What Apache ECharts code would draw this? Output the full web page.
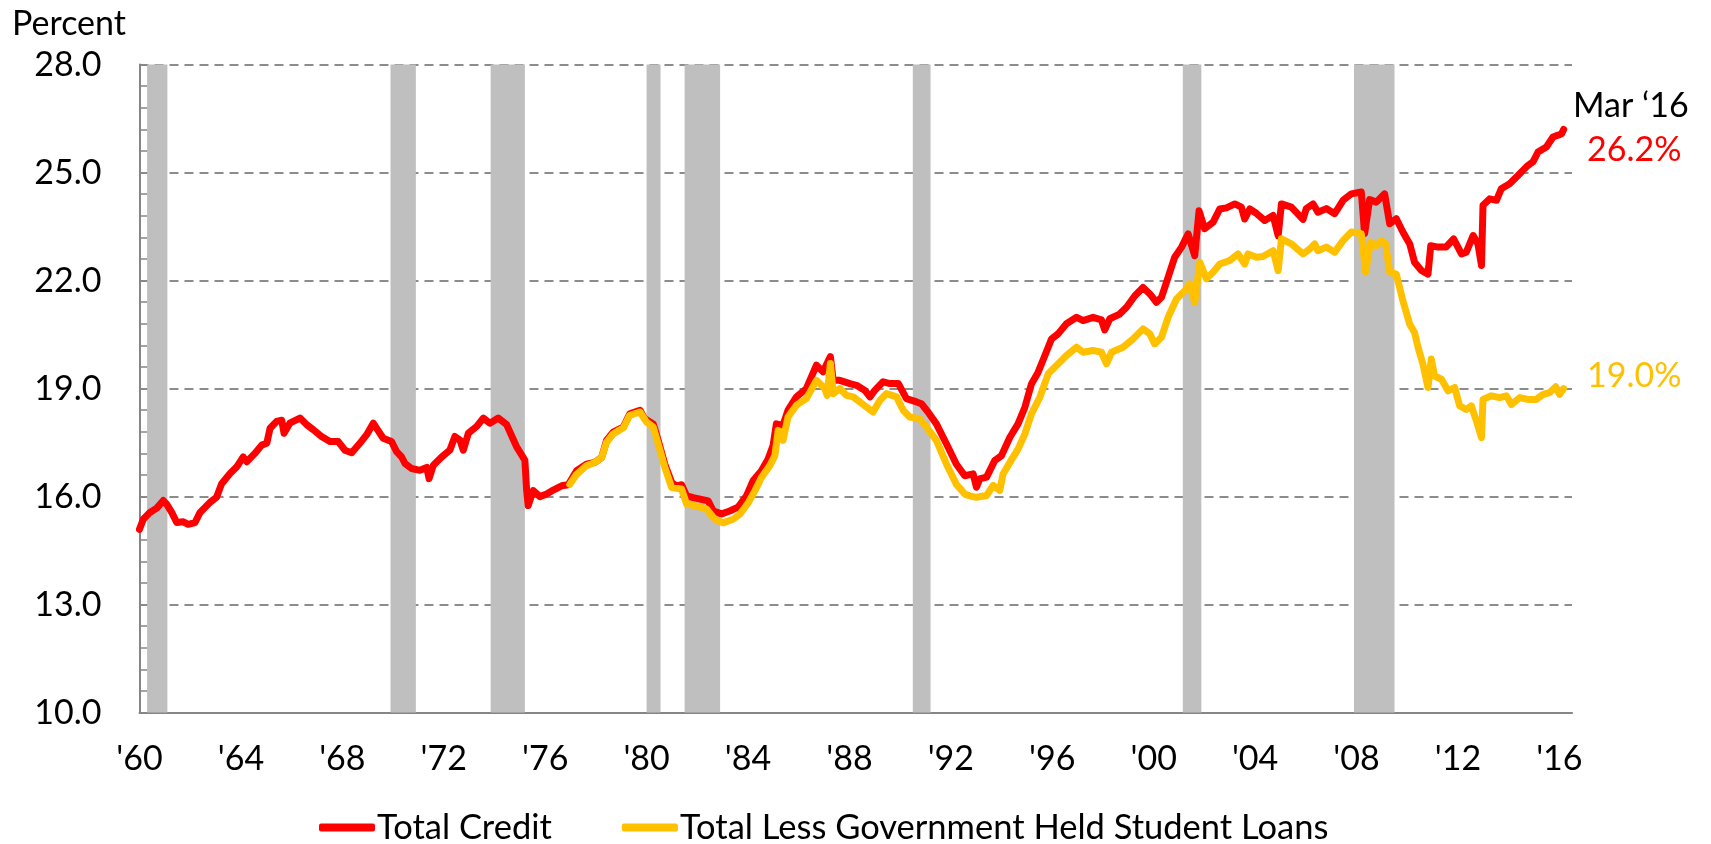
<!DOCTYPE html>
<html lang="en">
<head>
    <meta charset="UTF-8">
    <title>Total Credit share</title>
    <style>
        html, body { margin: 0; padding: 0; background: #fff; }
        #chart { width: 1711px; height: 844px; }
    </style>
</head>
<body>
<div id="chart"></div>
<script type="text/javascript" src="https://cdn.jsdelivr.net/npm/echarts@6/dist/echarts.min.js"></script>
<script type="text/javascript">
    'use strict';

    var creditYears = [
        1960.00, 1960.15, 1960.41, 1960.68, 1960.94, 1961.07, 1961.27, 1961.47, 1961.73, 1961.92,
        1962.19, 1962.39, 1962.78, 1963.04, 1963.24, 1963.57, 1963.83, 1964.09, 1964.23, 1964.55,
        1964.82, 1965.02, 1965.15, 1965.41, 1965.61, 1965.70, 1965.93, 1966.33, 1966.59, 1966.85,
        1967.18, 1967.51, 1967.84, 1968.10, 1968.37, 1968.69, 1968.96, 1969.22, 1969.61, 1969.94,
        1970.14, 1970.34, 1970.47, 1970.73, 1971.06, 1971.33, 1971.42, 1971.59, 1971.92, 1972.24,
        1972.44, 1972.64, 1972.77, 1972.97, 1973.30, 1973.56, 1973.82, 1974.15, 1974.48, 1974.87,
        1975.20, 1975.27, 1975.33, 1975.53, 1975.79, 1976.06, 1976.32, 1976.65, 1976.91, 1977.24,
        1977.63, 1977.96, 1978.23, 1978.42, 1978.68, 1979.08, 1979.34, 1979.74, 1979.93, 1980.26,
        1980.46, 1980.72, 1980.99, 1981.18, 1981.38, 1981.58, 1981.84, 1982.11, 1982.43, 1982.63,
        1982.96, 1983.28, 1983.61, 1983.94, 1984.20, 1984.53, 1984.79, 1984.99, 1985.12, 1985.38,
        1985.58, 1985.91, 1986.30, 1986.70, 1986.96, 1987.25, 1987.36, 1987.62, 1988.02, 1988.28,
        1988.61, 1988.81, 1989.00, 1989.33, 1989.60, 1989.93, 1990.25, 1990.65, 1990.84, 1991.10,
        1991.43, 1991.83, 1992.22, 1992.55, 1992.88, 1993.01, 1993.14, 1993.41, 1993.73, 1994.00,
        1994.33, 1994.65, 1994.92, 1995.18, 1995.44, 1995.71, 1995.97, 1996.23, 1996.56, 1996.96,
        1997.22, 1997.61, 1997.94, 1998.07, 1998.27, 1998.66, 1998.93, 1999.26, 1999.58, 1999.85,
        2000.11, 2000.31, 2000.57, 2000.83, 2001.10, 2001.36, 2001.62, 2001.79, 2002.01, 2002.34,
        2002.61, 2002.87, 2003.20, 2003.46, 2003.59, 2003.79, 2004.05, 2004.38, 2004.71, 2004.91,
        2005.04, 2005.43, 2005.89, 2006.02, 2006.29, 2006.48, 2006.81, 2007.14, 2007.47, 2007.80,
        2008.19, 2008.32, 2008.52, 2008.78, 2009.11, 2009.31, 2009.57, 2009.83, 2010.10, 2010.29,
        2010.56, 2010.82, 2010.93, 2011.21, 2011.53, 2011.83, 2012.14, 2012.33, 2012.60, 2012.79,
        2012.93, 2012.99, 2013.25, 2013.52, 2013.71, 2014.04, 2014.37, 2014.70, 2014.96, 2015.16,
        2015.49, 2015.75, 2015.95, 2016.09, 2016.17
    ];
    var creditValues = [
        15.09, 15.37, 15.56, 15.68, 15.89, 15.79, 15.56, 15.28, 15.30, 15.23,
        15.28, 15.56, 15.84, 15.98, 16.36, 16.64, 16.82, 17.10, 16.97, 17.20,
        17.43, 17.48, 17.90, 18.09, 18.12, 17.76, 18.04, 18.18, 18.00, 17.86,
        17.67, 17.53, 17.53, 17.29, 17.22, 17.48, 17.72, 18.04, 17.62, 17.53,
        17.25, 17.10, 16.92, 16.78, 16.73, 16.81, 16.50, 16.87, 17.10, 17.29,
        17.67, 17.57, 17.29, 17.76, 17.95, 18.18, 18.04, 18.18, 18.00, 17.39,
        17.01, 16.17, 15.75, 16.17, 16.00, 16.07, 16.18, 16.30, 16.33, 16.72,
        16.90, 16.95, 17.09, 17.56, 17.79, 17.93, 18.30, 18.40, 18.16, 18.02,
        17.56, 16.90, 16.39, 16.30, 16.33, 16.02, 15.97, 15.93, 15.88, 15.60,
        15.52, 15.60, 15.71, 16.02, 16.44, 16.72, 17.04, 17.42, 18.02, 17.98,
        18.40, 18.77, 19.00, 19.65, 19.47, 19.89, 19.23, 19.23, 19.14, 19.09,
        18.95, 18.77, 18.95, 19.19, 19.14, 19.14, 18.72, 18.63, 18.58, 18.35,
        18.02, 17.46, 16.90, 16.58, 16.63, 16.26, 16.49, 16.54, 17.00, 17.14,
        17.65, 18.02, 18.48, 19.13, 19.45, 19.92, 20.38, 20.52, 20.80, 20.98,
        20.89, 20.98, 20.91, 20.63, 20.94, 21.07, 21.26, 21.58, 21.81, 21.63,
        21.40, 21.54, 22.09, 22.65, 22.93, 23.30, 22.69, 23.94, 23.44, 23.62,
        23.99, 24.02, 24.13, 24.04, 23.71, 23.99, 23.87, 23.67, 23.81, 23.25,
        24.13, 24.04, 23.70, 24.00, 24.13, 23.90, 24.00, 23.86, 24.23, 24.41,
        24.46, 23.30, 24.25, 24.18, 24.41, 23.58, 23.72, 23.35, 23.02, 22.51,
        22.28, 22.18, 22.97, 22.93, 22.93, 23.16, 22.74, 22.79, 23.25, 23.02,
        22.42, 24.09, 24.27, 24.23, 24.55, 24.69, 24.92, 25.16, 25.30, 25.57,
        25.71, 25.99, 26.04, 26.08, 26.20
    ];

    var lessYears = [
        1976.97, 1977.24, 1977.63, 1977.96, 1978.23, 1978.42, 1978.68, 1979.08, 1979.34, 1979.74,
        1980.00, 1980.26, 1980.46, 1980.72, 1980.99, 1981.38, 1981.58, 1981.97, 1982.37, 1982.69,
        1983.02, 1983.41, 1983.68, 1984.01, 1984.27, 1984.53, 1984.86, 1985.06, 1985.19, 1985.38,
        1985.58, 1985.91, 1986.30, 1986.70, 1987.03, 1987.12, 1987.25, 1987.36, 1987.62, 1987.89,
        1988.15, 1988.41, 1988.67, 1988.93, 1989.20, 1989.46, 1989.86, 1990.12, 1990.38, 1990.78,
        1991.04, 1991.43, 1991.83, 1992.22, 1992.55, 1992.75, 1993.01, 1993.41, 1993.67, 1993.93,
        1994.06, 1994.33, 1994.65, 1994.92, 1995.18, 1995.51, 1995.84, 1996.10, 1996.56, 1996.96,
        1997.22, 1997.61, 1997.94, 1998.14, 1998.34, 1998.79, 1999.19, 1999.58, 1999.85, 2000.04,
        2000.31, 2000.57, 2000.90, 2001.23, 2001.42, 2001.62, 2001.82, 2002.08, 2002.34, 2002.61,
        2003.00, 2003.33, 2003.59, 2003.72, 2004.05, 2004.31, 2004.71, 2004.91, 2005.04, 2005.43,
        2005.89, 2006.16, 2006.35, 2006.48, 2006.81, 2007.14, 2007.47, 2007.80, 2008.19, 2008.36,
        2008.55, 2008.78, 2008.98, 2009.15, 2009.31, 2009.57, 2009.83, 2010.10, 2010.29, 2010.43,
        2010.62, 2010.82, 2010.95, 2011.08, 2011.35, 2011.61, 2011.87, 2012.07, 2012.33, 2012.53,
        2012.73, 2012.93, 2012.99, 2013.32, 2013.65, 2013.91, 2014.11, 2014.44, 2014.76, 2015.09,
        2015.36, 2015.62, 2015.86, 2016.01, 2016.17
    ];
    var lessValues = [
        16.34, 16.62, 16.86, 16.95, 17.09, 17.51, 17.74, 17.91, 18.26, 18.35,
        18.07, 17.93, 17.46, 16.81, 16.25, 16.21, 15.79, 15.74, 15.65, 15.37,
        15.27, 15.37, 15.51, 15.83, 16.16, 16.53, 16.86, 17.14, 17.84, 17.56,
        18.21, 18.54, 18.72, 19.23, 19.00, 18.81, 19.70, 18.86, 19.00, 18.81,
        18.77, 18.63, 18.49, 18.35, 18.67, 18.86, 18.77, 18.40, 18.21, 18.16,
        17.93, 17.56, 16.90, 16.34, 16.07, 16.02, 15.98, 16.03, 16.31, 16.17,
        16.63, 16.95, 17.32, 17.74, 18.30, 18.76, 19.41, 19.59, 19.92, 20.15,
        20.01, 20.06, 20.01, 19.69, 20.01, 20.15, 20.38, 20.66, 20.52, 20.24,
        20.43, 20.98, 21.49, 21.72, 21.91, 21.40, 22.51, 22.05, 22.23, 22.46,
        22.56, 22.74, 22.46, 22.74, 22.65, 22.67, 22.83, 22.28, 23.16, 23.02,
        22.74, 22.88, 23.02, 22.83, 22.93, 22.79, 23.11, 23.35, 23.30, 22.23,
        23.07, 22.97, 23.11, 23.02, 22.23, 22.18, 21.44, 20.79, 20.56, 20.14,
        19.68, 19.03, 19.82, 19.35, 19.26, 18.94, 19.03, 18.52, 18.42, 18.52,
        18.10, 17.64, 18.70, 18.80, 18.75, 18.80, 18.56, 18.75, 18.70, 18.70,
        18.84, 18.89, 19.05, 18.84, 19.00
    ];

    // recession periods (start, end) in decimal years
    var recessions = [
        [1960.30, 1961.10], [1969.90, 1970.90], [1973.85, 1975.20], [1980.00, 1980.55],
        [1981.50, 1982.90], [1990.50, 1991.20], [2001.15, 2001.88], [2007.90, 2009.50]
    ];

    var seriesNames = ['Total Credit', 'Total Less Government Held Student Loans'];
    var yMin = 10, yMax = 28, yStep = 3;
    var xMin = 1960, xMax = 2016.5, xStep = 4;

    var FONT = 'Lato, "Open Sans", sans-serif';
    var RED = '#FF0000', GOLD = '#FFC000';

    function pairs(xs, ys) {
        var arr = [];
        for (var i = 0; i < xs.length; i++) {
            arr.push([xs[i], ys[i]]);
        }
        return arr;
    }

    var lastCredit = creditValues[creditValues.length - 1];
    var lastLess = lessValues[lessValues.length - 1];

    var chart = echarts.init(document.getElementById('chart'), null, {renderer: 'canvas'});

    var option = {
        animation: false,
        backgroundColor: '#fff',
        grid: {
            left: 139.5,
            right: 139,
            top: 64.6,
            bottom: 131.4
        },
        legend: {
            data: seriesNames,
            left: 314,
            top: 805,
            icon: 'roundRect',
            itemWidth: 56,
            itemHeight: 8,
            itemGap: 70,
            textStyle: {
                color: '#000',
                fontSize: 34.5,
                fontFamily: FONT,
                padding: [0, 0, 0, -3]
            }
        },
        xAxis: {
            type: 'value',
            min: xMin,
            max: xMax,
            interval: xStep,
            axisLine: {show: true, lineStyle: {color: '#868686', width: 2}},
            axisTick: {show: false},
            splitLine: {show: false},
            axisLabel: {
                color: '#000',
                fontSize: 34,
                fontFamily: FONT,
                margin: 29,
                formatter: function (v) {
                    if (v % xStep !== 0) return '';
                    return "'" + String(v).slice(2);
                }
            }
        },
        yAxis: {
            type: 'value',
            min: yMin,
            max: yMax,
            interval: yStep,
            axisLine: {show: true, lineStyle: {color: '#868686', width: 2}},
            axisTick: {show: true, inside: true, length: 8, lineStyle: {color: '#868686', width: 1.5}},
            minorTick: {show: true, splitNumber: 5, length: 8, lineStyle: {color: '#868686', width: 1.5}},
            splitLine: {
                show: true,
                lineStyle: {color: '#8c8c8c', width: 2, type: [9, 6]}
            },
            axisLabel: {
                color: '#000',
                fontSize: 34,
                fontFamily: FONT,
                margin: 38,
                formatter: function (v) {
                    return v.toFixed(1);
                }
            }
        },
        series: [
            {
                name: 'recessions',
                type: 'custom',
                z: 1,
                silent: true,
                data: recessions,
                encode: {x: [0, 1]},
                renderItem: function (params, api) {
                    var p0 = api.coord([api.value(0), yMax]);
                    var p1 = api.coord([api.value(1), yMin]);
                    return {
                        type: 'rect',
                        shape: {x: p0[0], y: p0[1], width: p1[0] - p0[0], height: p1[1] - p0[1]},
                        style: {fill: '#BFBFBF'}
                    };
                }
            },
            {
                name: seriesNames[0],
                type: 'line',
                z: 3,
                showSymbol: false,
                color: RED,
                lineStyle: {color: RED, width: 7, cap: 'round', join: 'round'},
                data: pairs(creditYears, creditValues)
            },
            {
                name: seriesNames[1],
                type: 'line',
                z: 4,
                showSymbol: false,
                color: GOLD,
                lineStyle: {color: GOLD, width: 7, cap: 'round', join: 'round'},
                data: pairs(lessYears, lessValues)
            }
        ],
        graphic: [
            {
                type: 'text', x: 12, y: 24,
                style: {text: 'Percent', fill: '#000', font: '34px ' + FONT, verticalAlign: 'middle'}
            },
            {
                type: 'text', x: 1573, y: 106,
                style: {text: 'Mar \u201816', fill: '#000', font: '34px ' + FONT, verticalAlign: 'middle'}
            },
            {
                type: 'text', x: 1587, y: 150,
                style: {text: lastCredit.toFixed(1) + '%', fill: RED, font: '34px ' + FONT, verticalAlign: 'middle'}
            },
            {
                type: 'text', x: 1587, y: 376,
                style: {text: lastLess.toFixed(1) + '%', fill: GOLD, font: '34px ' + FONT, verticalAlign: 'middle'}
            }
        ]
    };

    chart.setOption(option);
</script>
</body>
</html>
